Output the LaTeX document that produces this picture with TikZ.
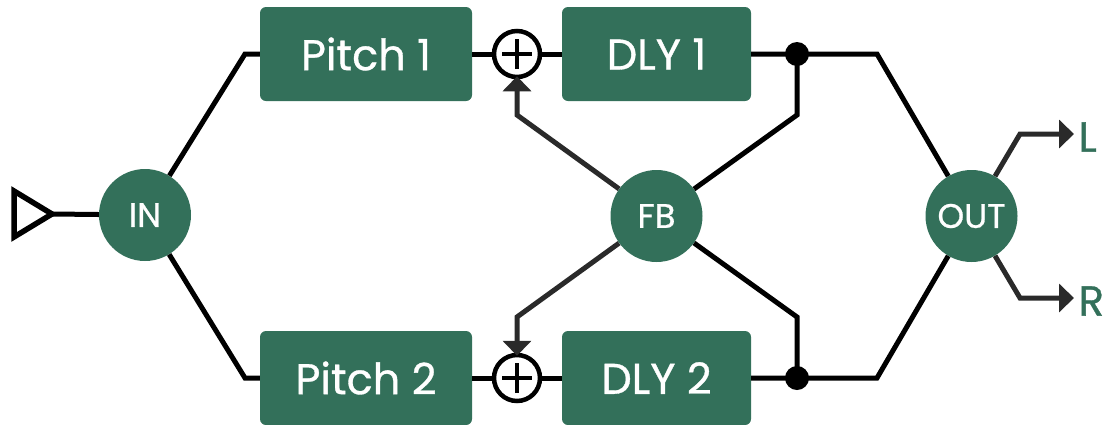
\documentclass[tikz,border=0pt]{standalone}
\usepackage{fontspec}
\setmainfont{Poppins}[FakeBold=0.8]
\usetikzlibrary{arrows.meta}

\definecolor{fxgreen}{HTML}{33705A}
\definecolor{fxgray}{HTML}{2A2A2A}

\tikzset{
  blk/.style={fill=fxgreen, rounded corners=6pt, text=white, minimum height=94pt,
    inner sep=0pt, font=\fontsize{43}{43}\selectfont},
  hub/.style={circle, fill=fxgreen, text=white, minimum size=92pt, inner sep=0pt,
    font=\fontsize{34}{34}\selectfont},
  summer/.style={circle, draw, line width=4.5pt, minimum size=46pt, inner sep=0pt},
  jdot/.style={circle, fill, minimum size=24pt, inner sep=0pt},
  wire/.style={line width=5pt},
  fbarrow/.style={line width=5pt, draw=fxgray, -{Triangle[length=15pt,width=28pt]}},
}

\begin{document}
\begin{tikzpicture}[x=1pt, y=-1pt]
  \useasboundingbox (0,0) rectangle (1113,424);

  % blocks
  \node[blk, minimum width=212pt] (p1) at (366,54) {Pitch 1};
  \node[blk, minimum width=212pt] (p2) at (366,378) {Pitch 2};
  \node[blk, minimum width=189pt] (d1) at (656.5,54) {DLY 1};
  \node[blk, minimum width=189pt] (d2) at (656.5,378) {DLY 2};
  \node[hub] (in) at (145,215) {IN};
  \node[hub] (fb) at (656.5,216) {FB};
  \node[hub] (out) at (971.5,216) {OUT};
  \node[summer] (s1) at (517,54) {};
  \node[summer] (s2) at (517,378) {};
  \foreach \s in {s1,s2} {
    \draw[line width=4.5pt] ([xshift=-15pt]\s.center) -- ([xshift=15pt]\s.center);
    \draw[line width=4.5pt] ([yshift=-15pt]\s.center) -- ([yshift=15pt]\s.center);
  }
  \node[text=fxgreen, anchor=west, font=\fontsize{42}{42}\selectfont] (l) at (1075,137) {L};
  \node[text=fxgreen, anchor=west, font=\fontsize{42}{42}\selectfont] (r) at (1075,301) {R};

  % bends
  \coordinate (tri) at (52,214);
  \coordinate (b1) at (245,54);
  \coordinate (b2) at (245,378);
  \coordinate (k1) at (517,115);
  \coordinate (k2) at (517,317);
  \coordinate (j1) at (797,54);
  \coordinate (j2) at (797,378);
  \coordinate (m1) at (797,115);
  \coordinate (m2) at (797,317);
  \coordinate (c1) at (877,54);
  \coordinate (c2) at (877,378);
  \coordinate (o1) at (1020,134);
  \coordinate (o2) at (1020,298);
  \coordinate (e1) at (1074,134);
  \coordinate (e2) at (1074,298);

  % input
  \draw[line width=5.5pt] (14,191) -- (tri) -- (14,237) -- cycle;
  \draw[wire] (tri) -- (in);

  % wires
  \draw[wire] (in) -- (b1) -- (p1.west);
  \draw[wire] (in) -- (b2) -- (p2.west);
  \draw[wire] (p1) -- (s1) -- (d1);
  \draw[wire] (p2) -- (s2) -- (d2);
  \draw[wire] (d1.east) -- (j1) -- (c1) -- (out);
  \draw[wire] (d2.east) -- (j2) -- (c2) -- (out);
  \draw[wire] (j1) -- (m1) -- (fb);
  \draw[wire] (j2) -- (m2) -- (fb);
  \node[jdot] at (j1) {};
  \node[jdot] at (j2) {};

  % feedback
  \draw[fbarrow] (fb) -- (k1) -- ([yshift=3pt]s1.south);
  \draw[fbarrow] (fb) -- (k2) -- ([yshift=-3pt]s2.north);

  % outputs
  \draw[fbarrow] (out) -- (o1) -- (e1);
  \draw[fbarrow] (out) -- (o2) -- (e2);
\end{tikzpicture}
\end{document}
